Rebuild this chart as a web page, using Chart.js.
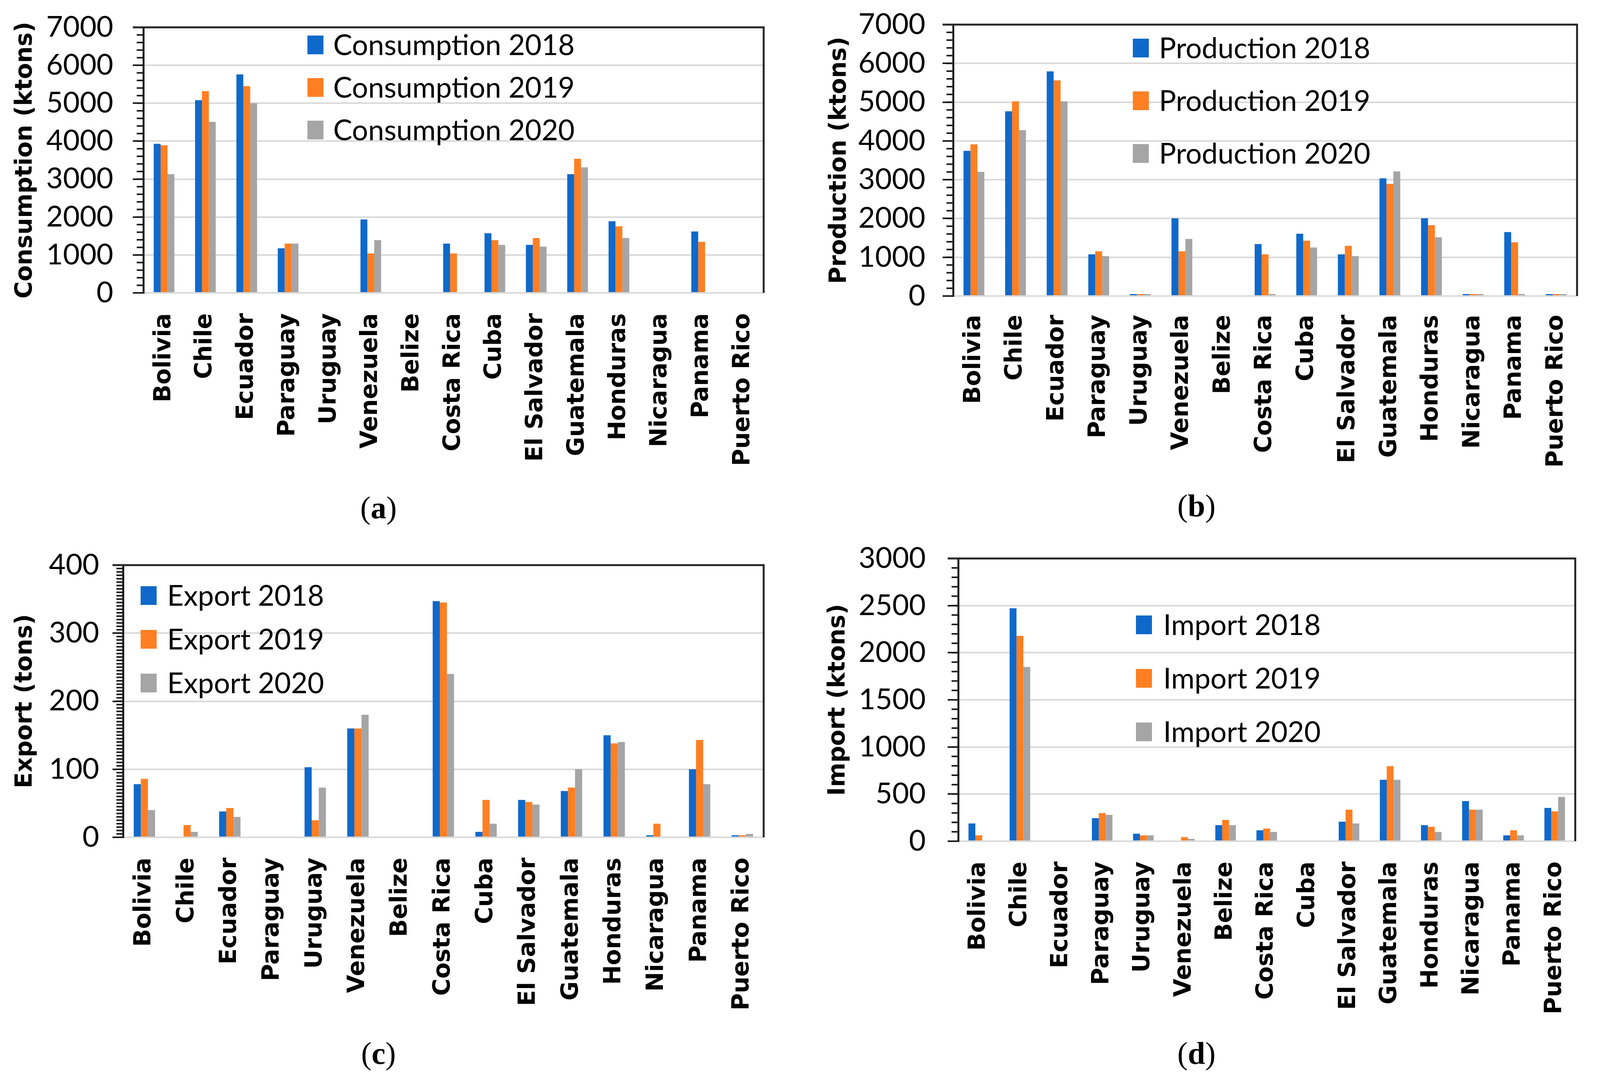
<!DOCTYPE html>
<html>
<head>
<meta charset="utf-8">
<script src="https://cdn.jsdelivr.net/npm/chart.js@4.4.1/dist/chart.umd.min.js"></script>
<style>
  html, body { margin: 0; padding: 0; background: #fff; }
  body { width: 4105px; height: 2768px; position: relative; overflow: hidden; }
  canvas { position: absolute; }
  .cap { position: absolute; font-family: 'Liberation Serif', serif; font-size: 80px; transform: translate(-50%, -50%); }
</style>
</head>
<body>
<canvas id="chartA" width="2052" height="1250" style="left:0;top:0"></canvas>
<canvas id="chartB" width="2053" height="1250" style="left:2052px;top:0"></canvas>
<canvas id="chartC" width="2052" height="1250" style="left:0;top:1384px"></canvas>
<canvas id="chartD" width="2053" height="1250" style="left:2052px;top:1384px"></canvas>
<div class="cap" style="left:969px;top:1300px">(<b>a</b>)</div>
<div class="cap" style="left:3063px;top:1295px">(<b>b</b>)</div>
<div class="cap" style="left:969px;top:2697px">(<b>c</b>)</div>
<div class="cap" style="left:3063px;top:2697px">(<b>d</b>)</div>
<script>
const countries = ['Bolivia', 'Chile', 'Ecuador', 'Paraguay', 'Uruguay', 'Venezuela', 'Belize', 'Costa Rica',
  'Cuba', 'El Salvador', 'Guatemala', 'Honduras', 'Nicaragua', 'Panama', 'Puerto Rico'];
const years = ['2018', '2019', '2020'];

// (a) consumption, ktons
const consumption2018 = [3930, 5080, 5760, 1175, 0, 1935, 0, 1300, 1573, 1265, 3130, 1890, 0, 1620, 0];
const consumption2019 = [3890, 5320, 5450, 1300, 0, 1040, 0, 1040, 1390, 1447, 3535, 1754, 0, 1347, 0];
const consumption2020 = [3130, 4510, 5000, 1300, 0, 1390, 0, 0, 1265, 1220, 3310, 1447, 0, 0, 0];

// (b) production, ktons
const production2018 = [3745, 4765, 5794, 1074, 50, 2005, 0, 1340, 1606, 1074, 3035, 2005, 50, 1650, 50];
const production2019 = [3913, 5022, 5563, 1153, 50, 1153, 0, 1074, 1428, 1295, 2893, 1828, 50, 1384, 50];
const production2020 = [3203, 4277, 5022, 1030, 50, 1473, 0, 50, 1251, 1030, 3212, 1517, 50, 50, 50];

// (c) export, tons
const export2018 = [78, 0, 38, 0, 103, 160, 0, 347, 8, 55, 68, 150, 3, 100, 3];
const export2019 = [86, 18, 43, 0, 25, 160, 0, 345, 55, 52, 73, 138, 20, 143, 3];
const export2020 = [40, 8, 30, 0, 73, 180, 0, 240, 20, 48, 100, 140, 0, 78, 5];

// (d) import, ktons
const import2018 = [189, 2472, 0, 244, 80, 0, 171, 116, 0, 207, 652, 171, 426, 62, 353];
const import2019 = [62, 2180, 0, 298, 62, 44, 226, 135, 0, 335, 797, 153, 335, 116, 317];
const import2020 = [0, 1849, 0, 280, 62, 25, 171, 98, 0, 189, 652, 98, 335, 62, 470];

// y axes: [max, major step, minor step]
const consumptionAxis = [7000, 1000, 200];
const productionAxis = [7000, 1000, 200];
const exportAxis = [400, 100, 5];
const importAxis = [3000, 500, 100];

const barColors = ['#0F69CA', '#FF7F22', '#A5A5A5'];

// minor ticks on the value axis and the dark top/right frame
const axisExtras = {
  id: 'axisExtras',
  afterDatasetsDraw(chart, args, opts) {
    const { ctx, chartArea: a, scales: { y } } = chart;
    ctx.save();
    ctx.strokeStyle = '#1a1a1a';
    ctx.lineWidth = 4;
    for (let v = 0; v <= y.max + 1e-9; v += opts.minor) {
      const py = y.getPixelForValue(v);
      ctx.beginPath();
      ctx.moveTo(a.left - 17, py);
      ctx.lineTo(a.left, py);
      ctx.stroke();
    }
    ctx.lineWidth = 5;
    ctx.strokeStyle = '#262626';
    ctx.beginPath();
    ctx.moveTo(a.left - 27, a.top);
    ctx.lineTo(a.right, a.top);
    ctx.lineTo(a.right, a.bottom);
    ctx.stroke();
    ctx.restore();
  }
};

// legend drawn inside the plot area
const innerLegend = {
  id: 'innerLegend',
  afterDraw(chart, args, o) {
    const ctx = chart.ctx;
    ctx.save();
    ctx.font = '73px Lato';
    ctx.textBaseline = 'middle';
    chart.data.datasets.forEach((ds, i) => {
      const cy = o.y + i * o.gap;
      ctx.fillStyle = ds.backgroundColor;
      ctx.fillRect(o.x, cy - 24, 41, 48);
      ctx.fillStyle = '#000';
      ctx.fillText(ds.label, o.text, cy + 2);
    });
    ctx.restore();
  }
};

const makeChart = (id, name, series, axis, title, lay) => {
  const [max, step, minor] = axis;
  return new Chart(document.getElementById(id), {
    type: 'bar',
    data: {
      labels: countries,
      datasets: series.map((values, i) => ({
        label: `${name} ${years[i]}`,
        data: values,
        backgroundColor: barColors[i],
        categoryPercentage: 0.5,
        barPercentage: 1.0
      }))
    },
    options: {
      responsive: false,
      animation: false,
      devicePixelRatio: 1,
      layout: { padding: { top: lay.top, right: lay.right, left: 0, bottom: 0 } },
      plugins: {
        legend: { display: false },
        tooltip: { enabled: false },
        axisExtras: { minor },
        innerLegend: lay.legend
      },
      scales: {
        x: {
          grid: { display: false, drawTicks: false },
          border: { display: false },
          ticks: {
            color: '#000',
            font: { family: 'DejaVu Sans', size: 60, weight: 'bold' },
            minRotation: 90,
            maxRotation: 90,
            autoSkip: false,
            padding: lay.xPad
          },
          afterFit: s => { s.height = lay.xHeight; }
        },
        y: {
          min: 0,
          max: max,
          ticks: {
            stepSize: step,
            color: '#000',
            font: { family: 'Lato', size: 74 },
            padding: lay.yPad,
            callback: v => String(v)
          },
          grid: { color: '#D9D9D9', lineWidth: 4, tickColor: '#1a1a1a', tickLength: 27, tickWidth: 4 },
          border: { display: true, color: '#1a1a1a', width: 5 },
          title: {
            display: true,
            text: title,
            color: '#000',
            font: { family: 'DejaVu Sans', size: 60, weight: 'bold' },
            padding: { top: lay.titlePad, bottom: 0 }
          },
          afterFit: s => {
            s.width = lay.yWidth;
            s.paddingTop = 0;
            s.paddingBottom = 0;
          }
        }
      }
    },
    plugins: [axisExtras, innerLegend]
  });
};

makeChart('chartA', 'Consumption', [consumption2018, consumption2019, consumption2020], consumptionAxis,
  'Consumption (ktons)',
  { top: 70, right: 97, yWidth: 367, xHeight: 500, yPad: 50, xPad: 52, titlePad: 29,
    legend: { x: 787, text: 853, y: 115, gap: 109 } });

makeChart('chartB', 'Production', [production2018, production2019, production2020], productionAxis,
  'Production (ktons)',
  { top: 63, right: 30, yWidth: 388, xHeight: 492, yPad: 44, xPad: 48, titlePad: 61,
    legend: { x: 848, text: 915, y: 123, gap: 135 } });

makeChart('chartC', 'Export', [export2018, export2019, export2020], exportAxis,
  'Export (tons)',
  { top: 63, right: 97, yWidth: 315, xHeight: 490, yPad: 34, xPad: 52, titlePad: 29,
    legend: { x: 360, text: 428, y: 141, gap: 112 } });

makeChart('chartD', 'Import', [import2018, import2019, import2020], importAxis,
  'Import (ktons)',
  { top: 46, right: 30, yWidth: 401, xHeight: 480, yPad: 56, xPad: 52, titlePad: 58,
    legend: { x: 856, text: 926, y: 216, gap: 137 } });
</script>
</body>
</html>
